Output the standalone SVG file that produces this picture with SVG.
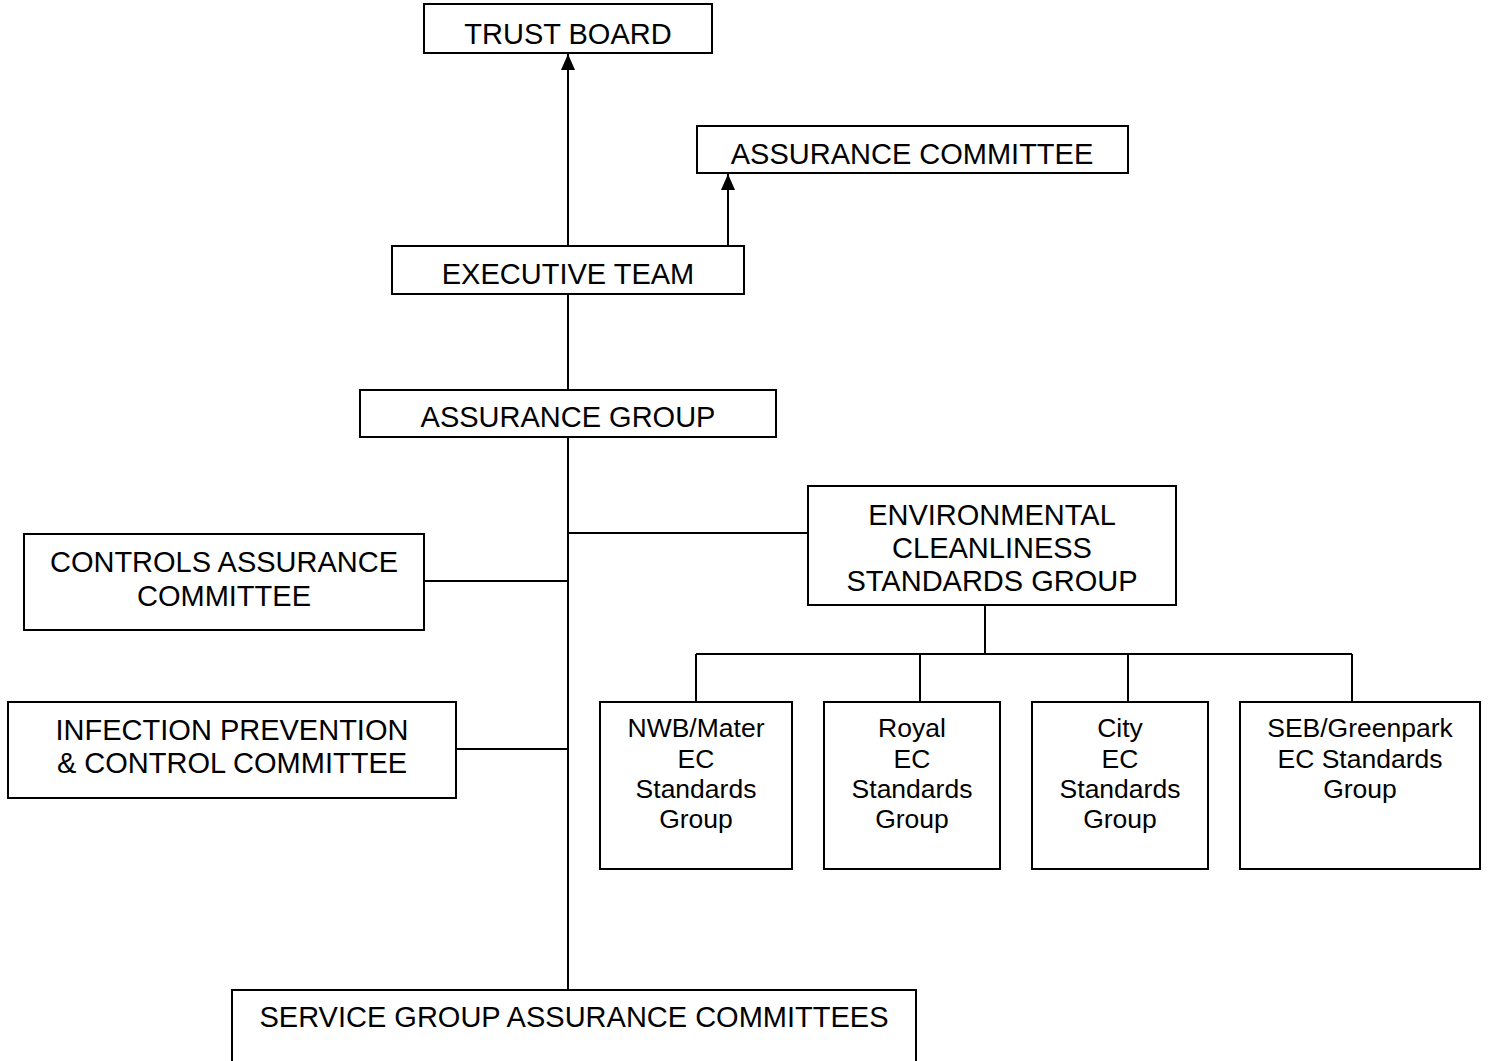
<svg xmlns="http://www.w3.org/2000/svg" width="1488" height="1061" viewBox="0 0 1488 1061">
  <style>
    .box { fill: #ffffff; stroke: #000000; stroke-width: 2; }
    .wire { fill: none; stroke: #000000; stroke-width: 2; }
    text { font-family: "Liberation Sans", Arial, sans-serif; fill: #000000; text-anchor: middle; }
    .big { font-size: 29px; }
    .small { font-size: 26.5px; }
  </style>
  <defs>
    <!-- solid triangular head, tip lies on the line end -->
    <marker id="arrow" markerWidth="16" markerHeight="14" refX="16" refY="7" orient="auto" markerUnits="userSpaceOnUse" viewBox="0 0 16 14">
      <path d="M0,0 L16,7 L0,14 Z" fill="#000000"/>
    </marker>
  </defs>
  <rect width="1488" height="1061" fill="#ffffff"/>

  <g id="connectors">
    <line class="wire" x1="568" y1="246" x2="568" y2="54" marker-end="url(#arrow)"/>
    <line class="wire" x1="728" y1="246" x2="728" y2="174" marker-end="url(#arrow)"/>
    <line class="wire" x1="568" y1="294" x2="568" y2="390"/>
    <line class="wire" x1="568" y1="437" x2="568" y2="990"/>
    <line class="wire" x1="568" y1="533" x2="808" y2="533"/>
    <line class="wire" x1="424" y1="581" x2="568" y2="581"/>
    <line class="wire" x1="456" y1="749" x2="568" y2="749"/>
    <line class="wire" x1="985" y1="605" x2="985" y2="654"/>
    <line class="wire" x1="696" y1="654" x2="1352" y2="654"/>
    <line class="wire" x1="696" y1="654" x2="696" y2="702"/>
    <line class="wire" x1="920" y1="654" x2="920" y2="702"/>
    <line class="wire" x1="1128" y1="654" x2="1128" y2="702"/>
    <line class="wire" x1="1352" y1="654" x2="1352" y2="702"/>
  </g>

  <g id="trust-board">
    <rect class="box" x="424" y="4" width="288" height="49"/>
    <text class="big" x="568" y="44">TRUST BOARD</text>
  </g>

  <g id="assurance-committee">
    <rect class="box" x="697" y="126" width="431" height="47"/>
    <text class="big" x="912" y="164">ASSURANCE COMMITTEE</text>
  </g>

  <g id="executive-team">
    <rect class="box" x="392" y="246" width="352" height="48"/>
    <text class="big" x="568" y="284">EXECUTIVE TEAM</text>
  </g>

  <g id="assurance-group">
    <rect class="box" x="360" y="390" width="416" height="47"/>
    <text class="big" x="568" y="427">ASSURANCE GROUP</text>
  </g>

  <g id="environmental-cleanliness">
    <rect class="box" x="808" y="486" width="368" height="119"/>
    <text class="big" x="992" y="525">ENVIRONMENTAL</text>
    <text class="big" x="992" y="558">CLEANLINESS</text>
    <text class="big" x="992" y="591">STANDARDS GROUP</text>
  </g>

  <g id="controls-assurance">
    <rect class="box" x="24" y="534" width="400" height="96"/>
    <text class="big" x="224" y="572">CONTROLS ASSURANCE</text>
    <text class="big" x="224" y="606">COMMITTEE</text>
  </g>

  <g id="infection-prevention">
    <rect class="box" x="8" y="702" width="448" height="96"/>
    <text class="big" x="232" y="740">INFECTION PREVENTION</text>
    <text class="big" x="232" y="773">&amp; CONTROL COMMITTEE</text>
  </g>

  <g id="nwb-mater">
    <rect class="box" x="600" y="702" width="192" height="167"/>
    <text class="small" x="696" y="737">NWB/Mater</text>
    <text class="small" x="696" y="768">EC</text>
    <text class="small" x="696" y="798">Standards</text>
    <text class="small" x="696" y="828">Group</text>
  </g>

  <g id="royal">
    <rect class="box" x="824" y="702" width="176" height="167"/>
    <text class="small" x="912" y="737">Royal</text>
    <text class="small" x="912" y="768">EC</text>
    <text class="small" x="912" y="798">Standards</text>
    <text class="small" x="912" y="828">Group</text>
  </g>

  <g id="city">
    <rect class="box" x="1032" y="702" width="176" height="167"/>
    <text class="small" x="1120" y="737">City</text>
    <text class="small" x="1120" y="768">EC</text>
    <text class="small" x="1120" y="798">Standards</text>
    <text class="small" x="1120" y="828">Group</text>
  </g>

  <g id="seb-greenpark">
    <rect class="box" x="1240" y="702" width="240" height="167"/>
    <text class="small" x="1360" y="737">SEB/Greenpark</text>
    <text class="small" x="1360" y="768">EC Standards</text>
    <text class="small" x="1360" y="798">Group</text>
  </g>

  <g id="service-group">
    <rect class="box" x="232" y="990" width="684" height="90"/>
    <text class="big" x="574" y="1027">SERVICE GROUP ASSURANCE COMMITTEES</text>
  </g>
</svg>
